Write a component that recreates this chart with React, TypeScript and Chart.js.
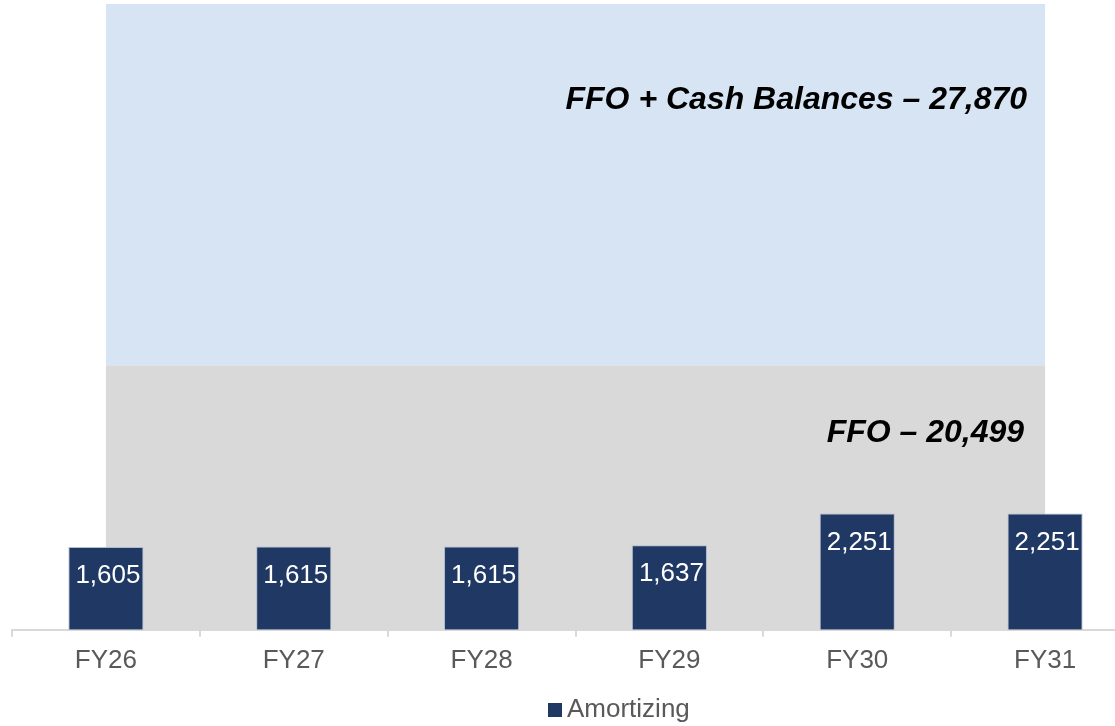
import React, { useEffect, useRef } from "react";
import { Chart, registerables } from "chart.js";

Chart.register(...registerables);

// Fiscal years and amortizing debt per year
const years = ["FY26", "FY27", "FY28", "FY29", "FY30", "FY31"];
const amortizing = [1605, 1615, 1615, 1637, 2251, 2251];
const seriesName = "Amortizing";

// Background capacity bands (in axis units) and their captions
const ffoBandTop = 5120;
const cashBandTop = 12120;
const ffoCaption = "FFO – 20,499";
const cashCaption = "FFO + Cash Balances – 27,870";

const FONT = "Arial, 'Liberation Sans', sans-serif";
const BAR_COLOR = "#1F3864";
const TEXT_GREY = "#595959";

const fmt = (v: number) => v.toLocaleString("en-US");

// Shaded capacity bands spanning from the first to the last year
const bandsPlugin = {
  id: "bands",
  beforeDatasetsDraw(chart: any) {
    const { ctx, scales } = chart;
    const x = scales.x;
    const y = scales.y;
    const left = x.getPixelForValue(0);
    const right = x.getPixelForValue(years.length - 1);
    const base = y.getPixelForValue(0);
    const ffoTop = y.getPixelForValue(ffoBandTop);
    const cashTop = y.getPixelForValue(cashBandTop);
    ctx.save();
    ctx.fillStyle = "#D6E4F4";
    ctx.fillRect(left, cashTop, right - left, ffoTop - cashTop);
    ctx.fillStyle = "#D9D9D9";
    ctx.fillRect(left, ffoTop, right - left, base - ffoTop);
    ctx.fillStyle = "#000000";
    ctx.textAlign = "right";
    ctx.textBaseline = "middle";
    ctx.font = `italic bold 32px ${FONT}`;
    ctx.fillText(cashCaption, right - 18, cashTop + 96);
    ctx.fillText(ffoCaption, right - 21, ffoTop + 68);
    ctx.restore();
  },
};

// White value labels near the top of each bar
const barLabelsPlugin = {
  id: "barLabels",
  afterDatasetsDraw(chart: any) {
    const { ctx } = chart;
    const meta = chart.getDatasetMeta(0);
    ctx.save();
    ctx.fillStyle = "#FFFFFF";
    ctx.textAlign = "center";
    ctx.textBaseline = "middle";
    ctx.font = `26px ${FONT}`;
    meta.data.forEach((bar: any, i: number) => {
      ctx.fillText(fmt(amortizing[i]), bar.x + 2, bar.y + 29);
    });
    ctx.restore();
  },
};

// Single-entry legend drawn below the category axis
const legendPlugin = {
  id: "seriesLegend",
  afterDraw(chart: any) {
    const { ctx } = chart;
    const boxLeft = 548;
    const boxTop = 703;
    ctx.save();
    ctx.fillStyle = BAR_COLOR;
    ctx.fillRect(boxLeft, boxTop, 14, 14);
    ctx.fillStyle = TEXT_GREY;
    ctx.textAlign = "left";
    ctx.textBaseline = "middle";
    ctx.font = `26px ${FONT}`;
    ctx.fillText(seriesName, boxLeft + 19, boxTop + 7);
    ctx.restore();
  },
};

export default function App() {
  const canvasRef = useRef<HTMLCanvasElement | null>(null);

  useEffect(() => {
    const canvas = canvasRef.current;
    if (!canvas) return;
    const chart = new Chart(canvas, {
      type: "bar",
      data: {
        labels: years,
        datasets: [
          {
            label: seriesName,
            data: amortizing,
            backgroundColor: BAR_COLOR,
            borderColor: "rgba(170,182,205,0.9)",
            borderWidth: 1,
            categoryPercentage: 1,
            barPercentage: 0.4,
          },
        ],
      },
      options: {
        animation: false,
        responsive: false,
        maintainAspectRatio: false,
        layout: { padding: { top: 4, left: 12, right: 101, bottom: 42 } },
        scales: {
          x: {
            grid: {
              offset: true,
              drawOnChartArea: false,
              drawTicks: true,
              tickLength: 7,
              color: "#D9D9D9",
              lineWidth: 2,
            },
            border: { display: true, color: "#D9D9D9", width: 2 },
            ticks: {
              color: TEXT_GREY,
              font: { family: FONT, size: 26 },
              padding: 8,
            },
          },
          y: {
            display: false,
            min: 0,
            max: cashBandTop,
          },
        },
        plugins: {
          legend: { display: false },
          tooltip: { enabled: false },
        },
      },
      plugins: [bandsPlugin, barLabelsPlugin, legendPlugin],
    });
    return () => chart.destroy();
  }, []);

  return (
    <div
      style={{
        position: "fixed",
        left: 0,
        top: 0,
        width: 1115,
        height: 726,
        overflow: "hidden",
        background: "#FFFFFF",
      }}
    >
      <canvas
        ref={canvasRef}
        width={1240}
        height={726}
        style={{ width: 1240, height: 726, display: "block" }}
      />
    </div>
  );
}
